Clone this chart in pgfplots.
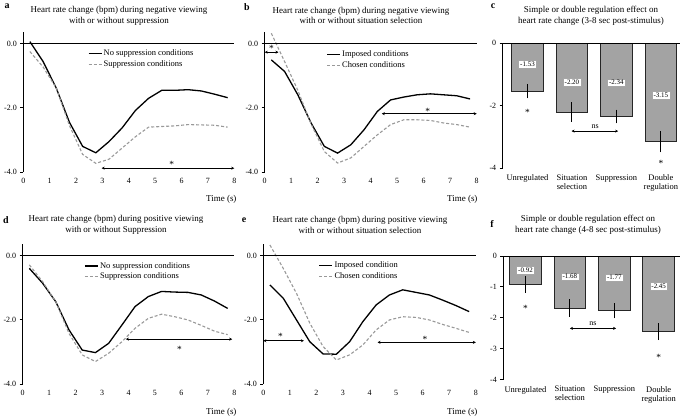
\documentclass[border=0pt]{standalone}
\usepackage{fontspec}
\setmainfont{Liberation Serif}
\usepackage{pgfplots}
\pgfplotsset{compat=1.18}
\usetikzlibrary{arrows.meta}
\definecolor{dashgray}{HTML}{999999}
\definecolor{barfill}{HTML}{A3A3A3}
\newcommand{\tfont}{\fontsize{9}{10.8}\selectfont}
\newcommand{\lfont}{\fontsize{8.5}{9}\selectfont}
\newcommand{\kfont}{\fontsize{8}{9}\selectfont}
\tikzset{sig/.style={line width=0.9bp,{Stealth[length=3bp,width=3bp]}-{Stealth[length=3bp,width=3bp]}},
  star/.style={font=\fontsize{9.5}{10}\selectfont,inner sep=0pt,yshift=-1.5bp},
  vlab/.style={fill=white,draw=gray!70,inner sep=1.6bp,font=\fontsize{7}{8}\selectfont}}
\pgfplotsset{
 linechart/.style={
   scale only axis, anchor=south west, height=140.3bp,
   xmin=0,xmax=8,ymin=-4,ymax=0.38,
   axis lines=left, axis line style={-,line width=0.9bp}, x axis line style={draw=none},
   xtick={0,...,8}, ytick={-4,-2,0},
   yticklabel style={/pgf/number format/.cd, fixed, fixed zerofill, precision=1},
   tick align=outside, major tick length=3bp, xtick style={draw=none}, ytick style={line width=0.9bp,black},
   tick label style={font=\kfont},
   /pgf/number format/assume math mode=true,
   clip=false,
   legend style={draw=none, fill=none, anchor=north west, font=\lfont, row sep=0.5bp, inner sep=0pt, nodes={inner sep=1.5bp}},
   legend cell align=left,
   legend image code/.code={\draw[##1] (0bp,0bp) -- (13bp,0bp);},
 },
 sol/.style={black, line width=1.3bp, mark=none},
 das/.style={dashgray, line width=1.1bp, dash pattern=on 3bp off 2bp, mark=none},
 barchart/.style={
   scale only axis, anchor=south west, ybar, bar width=31.7bp, ymin=-4, ymax=0,
   axis lines=left, axis line style={-,line width=0.9bp}, x axis line style={draw=none},
   xtick=data, xticklabels={Unregulated,Situation\\selection,Suppression,Double\\regulation},
   xtick style={draw=none}, ytick style={line width=0.9bp,black},
   tick align=outside, major tick length=3bp, clip=false,
   tick label style={font=\kfont}, xticklabel style={align=center,font=\lfont},
   /pgf/number format/assume math mode=true,
 },
 bars/.style={fill=barfill, draw=black!85, line width=0.9bp,
   error bars/.cd, y dir=both, y explicit, error mark=none,
   error bar style={line width=0.9bp,black}},
}
\begin{document}
\begin{tikzpicture}
\path[use as bounding box] (0,0) rectangle (685bp,-419bp);
% ---------- a
\begin{axis}[linechart, at={(23.3bp,-172bp)}, width=211bp,
  legend style={at={(0.305,0.885)}}]
\addplot[sol] coordinates {(0.25,0.07)(0.75,-0.55)(1.25,-1.38)(1.75,-2.45)(2.25,-3.2)(2.75,-3.4)(3.25,-3.05)(3.75,-2.62)(4.25,-2.08)(4.75,-1.7)(5.25,-1.45)(5.75,-1.45)(6.25,-1.43)(6.75,-1.47)(7.25,-1.57)(7.75,-1.68)};
\addlegendentry{No suppression conditions}
\addplot[das] coordinates {(0.25,-0.24)(0.75,-0.72)(1.25,-1.38)(1.75,-2.55)(2.25,-3.45)(2.75,-3.73)(3.25,-3.6)(3.75,-3.25)(4.25,-2.9)(4.75,-2.6)(5.25,-2.58)(5.75,-2.56)(6.25,-2.52)(6.75,-2.53)(7.25,-2.54)(7.75,-2.6)};
\addlegendentry{Suppression conditions}
\draw[line width=0.9bp] (axis cs:0,0) -- (axis cs:8,0);
\draw[sig] (axis cs:2.97,-3.88) -- (axis cs:8,-3.88);
\node[star] at (axis cs:5.63,-3.72) {*};
\end{axis}
% ---------- b
\begin{axis}[linechart, at={(264.7bp,-172bp)}, width=212bp,
  legend style={at={(0.29,0.875)}}]
\addplot[sol] coordinates {(0.25,-0.5)(0.75,-0.86)(1.25,-1.59)(1.75,-2.47)(2.25,-3.2)(2.75,-3.41)(3.25,-3.15)(3.75,-2.68)(4.25,-2.11)(4.75,-1.75)(5.25,-1.66)(5.75,-1.59)(6.25,-1.56)(6.75,-1.59)(7.25,-1.62)(7.75,-1.72)};
\addlegendentry{Imposed conditions}
\addplot[das] coordinates {(0.25,0.33)(0.75,-0.55)(1.25,-1.45)(1.75,-2.5)(2.25,-3.36)(2.75,-3.72)(3.25,-3.56)(3.75,-3.2)(4.25,-2.84)(4.75,-2.52)(5.25,-2.37)(5.75,-2.37)(6.25,-2.39)(6.75,-2.47)(7.25,-2.52)(7.75,-2.6)};
\addlegendentry{Chosen conditions}
\draw[line width=0.9bp] (axis cs:0,0) -- (axis cs:8,0);
\draw[sig] (axis cs:0,-0.26) -- (axis cs:0.52,-0.26);
\node[star] at (axis cs:0.26,-0.11) {*};
\draw[sig] (axis cs:4.42,-2.18) -- (axis cs:8,-2.18);
\node[star] at (axis cs:6.15,-2.05) {*};
\end{axis}
% ---------- d
\begin{axis}[linechart, at={(22.7bp,-384bp)}, width=211.6bp,
  legend style={at={(0.29,0.88)}}]
\addplot[sol] coordinates {(0.25,-0.39)(0.75,-0.85)(1.25,-1.43)(1.75,-2.31)(2.25,-2.94)(2.75,-3.02)(3.25,-2.73)(3.75,-2.16)(4.25,-1.58)(4.75,-1.27)(5.25,-1.11)(5.75,-1.13)(6.25,-1.14)(6.75,-1.22)(7.25,-1.41)(7.75,-1.64)};
\addlegendentry{No suppression conditions}
\addplot[das] coordinates {(0.25,-0.28)(0.75,-0.8)(1.25,-1.43)(1.75,-2.42)(2.25,-3.09)(2.75,-3.3)(3.25,-3.04)(3.75,-2.68)(4.25,-2.26)(4.75,-1.95)(5.25,-1.82)(5.75,-1.9)(6.25,-2.0)(6.75,-2.17)(7.25,-2.35)(7.75,-2.46)};
\addlegendentry{Suppression conditions}
\draw[line width=0.9bp] (axis cs:0,0) -- (axis cs:8,0);
\draw[sig] (axis cs:3.9,-2.6) -- (axis cs:7.92,-2.6);
\node[star] at (axis cs:5.93,-2.86) {*};
\end{axis}
% ---------- e
\begin{axis}[linechart, at={(263.3bp,-384bp)}, width=212.5bp,
  legend style={at={(0.26,0.885)}}]
\addplot[sol] coordinates {(0.25,-0.91)(0.75,-1.32)(1.25,-2.0)(1.75,-2.68)(2.25,-3.06)(2.75,-3.07)(3.25,-2.68)(3.75,-2.05)(4.25,-1.53)(4.75,-1.22)(5.25,-1.06)(5.75,-1.14)(6.25,-1.22)(6.75,-1.38)(7.25,-1.55)(7.75,-1.74)};
\addlegendentry{Imposed condition}
\addplot[das] coordinates {(0.25,0.34)(0.75,-0.39)(1.25,-1.17)(1.75,-2.1)(2.25,-2.83)(2.75,-3.25)(3.25,-3.09)(3.75,-2.78)(4.25,-2.31)(4.75,-2.0)(5.25,-1.9)(5.75,-1.92)(6.25,-2.0)(6.75,-2.14)(7.25,-2.26)(7.75,-2.39)};
\addlegendentry{Chosen conditions}
\draw[line width=0.9bp] (axis cs:0,0) -- (axis cs:8,0);
\draw[sig] (axis cs:0,-2.65) -- (axis cs:1.53,-2.65);
\node[star] at (axis cs:0.65,-2.47) {*};
\draw[sig] (axis cs:4.3,-2.7) -- (axis cs:8,-2.7);
\node[star] at (axis cs:6.09,-2.55) {*};
\end{axis}
% ---------- c
\begin{axis}[barchart, at={(502.7bp,-168.3bp)}, width=177.3bp, height=125bp,
  xmin=-0.557, xmax=3.43, ytick={-4,-2,0}]
\addplot[bars] coordinates {(0,-1.53) +- (0,0.23) (1,-2.20) +- (0,0.31) (2,-2.34) +- (0,0.22) (3,-3.15) +- (0,0.34)};
\draw[line width=0.9bp] (axis cs:-0.557,0) -- (axis cs:3.43,0);
\node[vlab] at (axis cs:0,-0.66) {-1.53};
\node[vlab] at (axis cs:1,-1.23) {-2.20};
\node[vlab] at (axis cs:2,-1.26) {-2.34};
\node[vlab] at (axis cs:3,-1.65) {-3.15};
\node[star] at (axis cs:0,-2.15) {*};
\node[star] at (axis cs:3,-3.8) {*};
\draw[sig] (axis cs:0.99,-2.81) -- (axis cs:2.04,-2.81);
\node[font=\kfont,inner sep=0pt] at (axis cs:1.52,-2.67) {ns};
\end{axis}
% ---------- f
\begin{axis}[barchart, at={(503.3bp,-379.7bp)}, width=176.7bp, height=123.7bp,
  xmin=-0.5, xmax=3.48, ytick={-4,-3,-2,-1,0}]
\addplot[bars] coordinates {(0,-0.92) +- (0,0.27) (1,-1.68) +- (0,0.28) (2,-1.77) +- (0,0.25) (3,-2.45) +- (0,0.27)};
\draw[line width=0.9bp] (axis cs:-0.5,0) -- (axis cs:3.48,0);
\node[vlab] at (axis cs:0,-0.45) {-0.92};
\node[vlab] at (axis cs:1,-0.67) {-1.68};
\node[vlab] at (axis cs:2,-0.70) {-1.77};
\node[vlab] at (axis cs:3,-0.99) {-2.45};
\node[star] at (axis cs:0,-1.64) {*};
\node[star] at (axis cs:3,-3.22) {*};
\draw[sig] (axis cs:1.0,-2.34) -- (axis cs:2.04,-2.34);
\node[font=\kfont,inner sep=0pt] at (axis cs:1.52,-2.2) {ns};
\end{axis}
% ---------- titles and labels
\node[font=\tfont,align=center] at (119bp,-15.5bp) {Heart rate change (bpm) during negative viewing\\with or without suppression};
\node[font=\tfont,align=center] at (361bp,-15.5bp) {Heart rate change (bpm) during negative viewing\\with or without situation selection};
\node[font=\tfont,align=center] at (591bp,-15.5bp) {Simple or double regulation effect on\\heart rate change (3-8 sec post-stimulus)};
\node[font=\tfont,align=center] at (116bp,-225bp) {Heart rate change (bpm) during positive viewing\\with or without Suppression};
\node[font=\tfont,align=center] at (360bp,-225bp) {Heart rate change (bpm) during positive viewing\\with or without situation selection};
\node[font=\tfont,align=center] at (588bp,-225bp) {Simple or double regulation effect on\\heart rate change (4-8 sec post-stimulus)};
\node[font=\fontsize{10}{11}\selectfont\bfseries] at (7bp,-6bp) {a};
\node[font=\fontsize{10}{11}\selectfont\bfseries] at (247bp,-7bp) {b};
\node[font=\fontsize{10}{11}\selectfont\bfseries] at (493bp,-6bp) {c};
\node[font=\fontsize{10}{11}\selectfont\bfseries] at (6bp,-220bp) {d};
\node[font=\fontsize{10}{11}\selectfont\bfseries] at (244bp,-220bp) {e};
\node[font=\fontsize{10}{11}\selectfont\bfseries] at (492bp,-224bp) {f};
\node[font=\tfont,anchor=east] at (240bp,-199bp) {Time (s)};
\node[font=\tfont,anchor=east] at (481bp,-199bp) {Time (s)};
\node[font=\tfont,anchor=east] at (240bp,-412bp) {Time (s)};
\node[font=\tfont,anchor=east] at (481bp,-412bp) {Time (s)};
\end{tikzpicture}
\end{document}
